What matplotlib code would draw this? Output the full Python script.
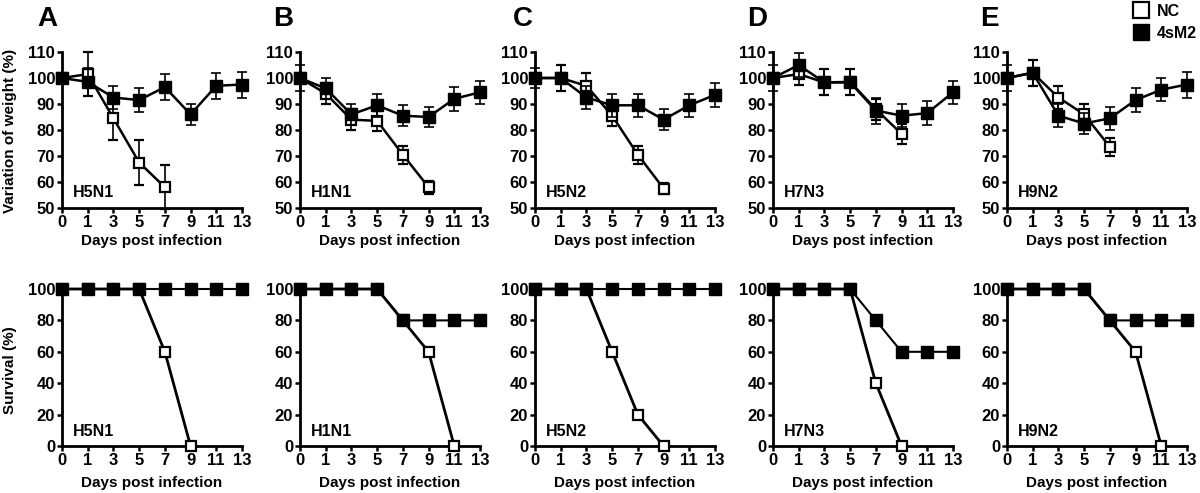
import numpy as np
import matplotlib.pyplot as plt
from matplotlib.lines import Line2D

plt.rcParams['font.family'] = ['Liberation Sans', 'DejaVu Sans']
plt.rcParams['font.weight'] = 'bold'
plt.rcParams['axes.labelweight'] = 'bold'

days = ['0', '1', '3', '5', '7', '9', '11', '13']
strains = ['H5N1', 'H1N1', 'H5N2', 'H7N3', 'H9N2']
letters = ['A', 'B', 'C', 'D', 'E']

# body weight (%), NC group
nc_w_h5n1 = [100, 101.5, 84.5, 67.5, 58]
nc_w_h1n1 = [100, 94, 84, 83.5, 70.5, 58]
nc_w_h5n2 = [100, 100, 97, 85.5, 70.5, 57.5]
nc_w_h7n3 = [100, 101.5, 98.3, 98.5, 88, 78.5]
nc_w_h9n2 = [100, 102, 92.5, 86, 73.5]
nc_we_h5n1 = [0, 8.5, 8.5, 8.5, 8.5]
nc_we_h1n1 = [0, 4, 4, 4, 3.5, 2.5]
nc_we_h5n2 = [0, 5, 5, 4, 3.5, 2]
nc_we_h7n3 = [0, 4, 5, 5, 4, 4]
nc_we_h9n2 = [0, 5, 4.5, 4, 3.5]

# body weight (%), 4sM2 group
m2_w_h5n1 = [100, 98.5, 92.5, 91.5, 96.5, 86, 97, 97.5]
m2_w_h1n1 = [100, 96, 86, 89.5, 85.5, 85, 92, 94.5]
m2_w_h5n2 = [100, 100, 92.5, 89.5, 89.5, 84, 89.5, 93.5]
m2_w_h7n3 = [100, 105, 98.3, 98.3, 87.5, 85.5, 86.5, 94.5]
m2_w_h9n2 = [100, 102, 85.5, 82.5, 84.5, 91.5, 95.5, 97.5]
m2_we_h5n1 = [0, 5.5, 4.5, 4.5, 5, 4, 5, 5]
m2_we_h1n1 = [5, 4, 4, 4.5, 4, 4, 4.5, 4.5]
m2_we_h5n2 = [4, 5, 4.5, 4.5, 4.5, 4, 4.5, 4.5]
m2_we_h7n3 = [5, 4.5, 5, 5, 5, 4.5, 4.5, 4.5]
m2_we_h9n2 = [5, 5, 4.5, 4, 4.5, 4.5, 4.5, 5]

# survival (%)
nc_s_h5n1 = [100, 100, 100, 100, 60, 0]
nc_s_h1n1 = [100, 100, 100, 100, 80, 60, 0]
nc_s_h5n2 = [100, 100, 100, 60, 20, 0]
nc_s_h7n3 = [100, 100, 100, 100, 40, 0]
nc_s_h9n2 = [100, 100, 100, 100, 80, 60, 0]
m2_s_h5n1 = [100, 100, 100, 100, 100, 100, 100, 100]
m2_s_h1n1 = [100, 100, 100, 100, 80, 80, 80, 80]
m2_s_h5n2 = [100, 100, 100, 100, 100, 100, 100, 100]
m2_s_h7n3 = [100, 100, 100, 100, 80, 60, 60, 60]
m2_s_h9n2 = [100, 100, 100, 100, 80, 80, 80, 80]

nc_w = [nc_w_h5n1, nc_w_h1n1, nc_w_h5n2, nc_w_h7n3, nc_w_h9n2]
nc_we = [nc_we_h5n1, nc_we_h1n1, nc_we_h5n2, nc_we_h7n3, nc_we_h9n2]
m2_w = [m2_w_h5n1, m2_w_h1n1, m2_w_h5n2, m2_w_h7n3, m2_w_h9n2]
m2_we = [m2_we_h5n1, m2_we_h1n1, m2_we_h5n2, m2_we_h7n3, m2_we_h9n2]
nc_s = [nc_s_h5n1, nc_s_h1n1, nc_s_h5n2, nc_s_h7n3, nc_s_h9n2]
m2_s = [m2_s_h5n1, m2_s_h1n1, m2_s_h5n2, m2_s_h7n3, m2_s_h9n2]

W, H = 1200, 493
fig = plt.figure(figsize=(12, 4.93), dpi=100)

lefts = [62, 300, 535, 773, 1007]
letter_x = [37, 273, 513, 747, 980]
aw = 180


def style(ax, ylim, yticks, lpad):
    ax.set_xlim(0, 7)
    ax.set_ylim(*ylim)
    ax.set_xticks(range(8))
    ax.set_xticklabels(days)
    ax.set_yticks(yticks)
    for s in ['top', 'right']:
        ax.spines[s].set_visible(False)
    for s in ['left', 'bottom']:
        ax.spines[s].set_linewidth(2)
    ax.tick_params(width=1.8, length=3.5, pad=1.5, labelsize=12)
    ax.set_xlabel('Days post infection', fontsize=11, labelpad=lpad)


for i in range(5):
    # weight panel
    ax = fig.add_axes([lefts[i] / W, 1 - 208 / H, aw / W, 156 / H])
    x_nc = np.arange(len(nc_w[i]))
    x_m2 = np.arange(len(m2_w[i]))
    ax.errorbar(x_nc, nc_w[i], yerr=nc_we[i], color='black', lw=1.8, elinewidth=1.2,
                capsize=3.5, capthick=1.2, marker='s', ms=7, mfc='white', mec='black',
                mew=1.6, clip_on=False, zorder=3)
    ax.errorbar(x_m2, m2_w[i], yerr=m2_we[i], color='black', lw=1.8, elinewidth=1.2,
                capsize=3.5, capthick=1.2, marker='s', ms=8, mfc='black', mec='black',
                clip_on=False, zorder=4)
    style(ax, (50, 110), range(50, 111, 10), 3)
    ax.text(0.06, 0.1, strains[i], transform=ax.transAxes, fontsize=11.5,
            fontweight='bold', va='center', ha='left')

    # survival panel
    ax2 = fig.add_axes([lefts[i] / W, 1 - 446 / H, aw / W, 157 / H])
    ax2.plot(np.arange(len(nc_s[i])), nc_s[i], color='black', lw=2, marker='s', ms=7,
             mfc='white', mec='black', mew=1.6, clip_on=False, zorder=3)
    ax2.plot(np.arange(len(m2_s[i])), m2_s[i], color='black', lw=1.5, marker='s', ms=9,
             mfc='black', mec='black', clip_on=False, zorder=4)
    style(ax2, (0, 100), range(0, 101, 20), 6)
    ax2.text(0.06, 0.09, strains[i], transform=ax2.transAxes, fontsize=11.5,
             fontweight='bold', va='center', ha='left')

    fig.text(letter_x[i] / W, 1 - 6 / H, letters[i], fontsize=20, fontweight='bold',
             va='top', ha='left')

fig.text(10 / W, 1 - 131 / H, 'Variation of weight (%)', rotation=90, fontsize=11,
         fontweight='bold', va='center', ha='center')
fig.text(10 / W, 1 - 370 / H, 'Survival (%)', rotation=90, fontsize=11,
         fontweight='bold', va='center', ha='center')

handles = [Line2D([], [], ls='none', marker='s', ms=11.5, mfc='white', mec='black', mew=1.6),
           Line2D([], [], ls='none', marker='s', ms=11.5, mfc='black', mec='black')]
fig.legend(handles, ['NC', '4sM2'], loc='upper right', bbox_to_anchor=(1208 / W, 1.015),
           frameon=False, fontsize=11.5, handlelength=1, handletextpad=0.5,
           labelspacing=0.45, borderpad=0.2)

fig.savefig('out.png', dpi=100)
